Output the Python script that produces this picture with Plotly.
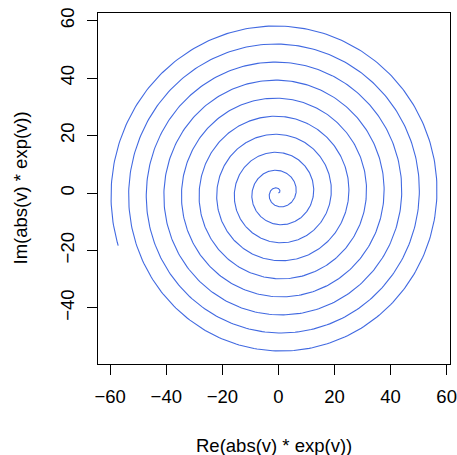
import numpy as np
import plotly.graph_objects as go

# Parameter of the complex vector v = i*t (as in the axis titles)
t_start = 0.0
t_end = 60.0
n_points = 3000
t = np.linspace(t_start, t_end, n_points)
v = 1j * t
z = np.abs(v) * np.exp(v)
x_vals = z.real
y_vals = z.imag

x_ticks = [-60, -40, -20, 0, 20, 40, 60]
y_ticks = [-40, -20, 0, 20, 40, 60]
x_title = "Re(abs(v) * exp(v))"
y_title = "Im(abs(v) * exp(v))"

font_family = "Liberation Sans, Arial, Helvetica, sans-serif"
fs = 18.5

def padded(a):
    lo, hi = float(np.min(a)), float(np.max(a))
    d = (hi - lo) * 0.04
    return [lo - d, hi + d]

fig = go.Figure()
fig.add_trace(go.Scatter(x=x_vals, y=y_vals, mode="lines",
                         line=dict(color="#4169E1", width=1.1),
                         hoverinfo="skip", showlegend=False))

axis_common = dict(showgrid=False, zeroline=False, showline=True, mirror=True,
                   linecolor="black", linewidth=1, ticks="outside", ticklen=10,
                   tickwidth=1, tickcolor="black", automargin=False,
                   ticklabelstandoff=6,
                   tickfont=dict(family=font_family, size=fs, color="black"))

fig.update_layout(
    template="none",
    width=457, height=455,
    margin=dict(l=98, r=7, t=13, b=91, autoexpand=False),
    paper_bgcolor="white", plot_bgcolor="white",
    xaxis=dict(range=padded(x_vals), tickvals=x_ticks,
               ticktext=[str(v).replace("-", "\u2212") for v in x_ticks],
               **axis_common),
    yaxis=dict(range=padded(y_vals), tickvals=y_ticks,
               ticktext=[str(v).replace("-", "\u2212") for v in y_ticks],
               tickangle=-90, **axis_common),
    annotations=[
        dict(text=x_title, xref="paper", yref="paper", x=0.5, y=0,
             yshift=-81, showarrow=False, yanchor="middle",
             font=dict(family=font_family, size=fs, color="black")),
        dict(text=y_title, xref="paper", yref="paper", x=0, y=0.5,
             xshift=-78, showarrow=False, textangle=-90, xanchor="center",
             font=dict(family=font_family, size=fs, color="black")),
    ],
)

fig.write_html("out.html", config={"displayModeBar": False},
               post_script="document.body.style.margin='0';document.body.style.overflow='hidden';")
